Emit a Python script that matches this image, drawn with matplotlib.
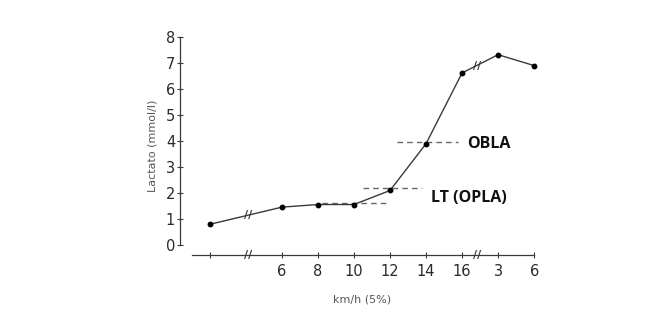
#!/usr/bin/env python3
"""Lactate vs treadmill speed curve with LT / OBLA thresholds."""

import matplotlib
matplotlib.use("Agg")
import matplotlib.pyplot as plt

# speed labels along the x axis (first tick unlabeled, last two after the break)
speed_labels = ["", "6", "8", "10", "12", "14", "16", "3", "6"]
# lactate readings (mmol/l) at each tick
lactate = [0.8, 1.46, 1.56, 1.56, 2.1, 3.9, 6.62, 7.32, 6.9]

# threshold guide lines
lt_low = 1.6
lt_level = 2.18
obla_level = 3.97

LINE = "#3a3a3a"
TEXT = "#2a2a2a"

# slot positions: a gap after the first tick stands for the axis break
xpos = [0] + [i + 1 for i in range(1, len(speed_labels))]

fig = plt.figure(figsize=(6.6, 3.3), dpi=100)
ax = fig.add_axes([0.2727, 0.2273, 0.553, 0.6606])

ax.plot(xpos, lactate, color=LINE, lw=1.0, marker="o", ms=3.2,
        mfc="black", mec="black", zorder=3)

# dashed guides
ax.plot([3.1, 5.0], [lt_low, lt_low], ls=(0, (4, 3)), color="#666666", lw=1.0)
ax.plot([4.25, 5.9], [lt_level, lt_level], ls=(0, (4, 3)), color="#666666", lw=1.0)
ax.plot([5.2, 6.9], [obla_level, obla_level], ls=(0, (4, 3)), color="#666666", lw=1.0)

ax.text(7.15, obla_level - 0.08, "OBLA", fontsize=11.5, fontweight="bold",
        family="Open Sans", color="#111111", va="center", ha="left")
ax.text(6.15, 1.8, "LT (OPLA)", fontsize=11.5, fontweight="bold",
        family="Open Sans", color="#111111", va="center", ha="left")

# break marks on the curve and on the x axis
brk_x = [1.06, 7.42]
brk_curve_y = [1.16, 6.88]
for bx, by in zip(brk_x, brk_curve_y):
    ax.text(bx, by, "//", fontsize=8, color=LINE, ha="center", va="center",
            fontweight="bold", zorder=4)
    ax.text(bx, -0.38, "//", fontsize=8, color=LINE, ha="center", va="center",
            fontweight="bold", zorder=4, clip_on=False)

ax.set_xlim(-0.83, 9.3)
ax.set_ylim(-0.38, 8.0)

for side in ["top", "right"]:
    ax.spines[side].set_visible(False)
ax.spines["left"].set_bounds(0, 8)
ax.spines["bottom"].set_bounds(-0.5, 9)
ax.spines["left"].set_color(LINE)
ax.spines["bottom"].set_color(LINE)
ax.spines["left"].set_linewidth(0.9)
ax.spines["bottom"].set_linewidth(0.9)

ax.set_yticks(range(0, 9))
ax.set_xticks(xpos)
ax.set_xticklabels(speed_labels)
ax.tick_params(axis="y", direction="inout", length=5, width=0.8, color=LINE,
               labelsize=10.5, labelcolor=TEXT, pad=1)
ax.tick_params(axis="x", direction="inout", length=5, width=0.8, color=LINE,
               labelsize=10.5, labelcolor=TEXT, pad=4)

ax.set_ylabel("Lactato (mmol/l)", fontsize=8, color="#555555", labelpad=6)
ax.set_xlabel("km/h (5%)", fontsize=8, color="#555555", labelpad=11)

fig.savefig("out.png", dpi=100)
